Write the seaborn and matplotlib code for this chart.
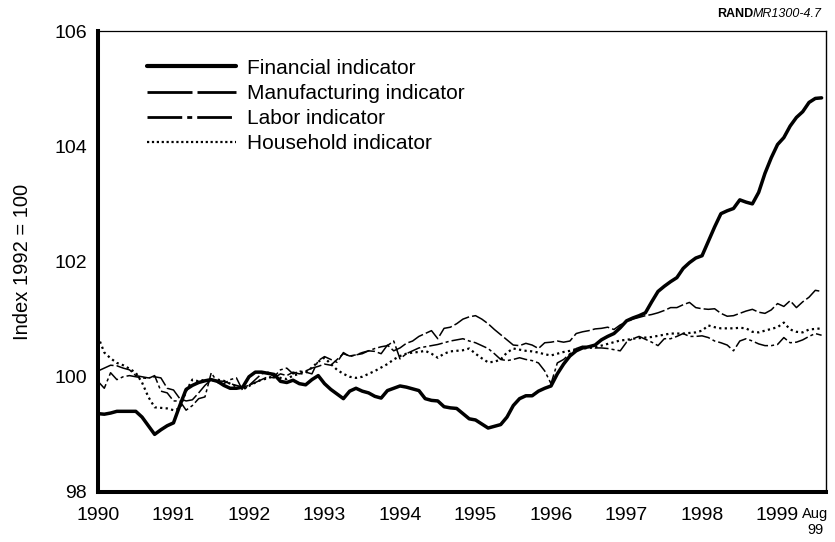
import pandas as pd
import numpy as np
import seaborn as sns
import matplotlib.pyplot as plt
from matplotlib.lines import Line2D
from matplotlib.transforms import blended_transform_factory

# Monthly index values, Jan 1990 - Aug 1999 (1992 = 100)
financial = [99.36, 99.35, 99.37, 99.40, 99.40, 99.40, 99.40, 99.30, 99.15, 99.00,
             99.08, 99.15, 99.20, 99.50, 99.78, 99.85, 99.90, 99.93, 99.95, 99.92,
             99.85, 99.80, 99.80, 99.82, 100.00, 100.08, 100.08, 100.06, 100.04, 99.92,
             99.90, 99.94, 99.88, 99.86, 99.95, 100.02, 99.88, 99.78, 99.70, 99.62,
             99.75, 99.80, 99.75, 99.72, 99.66, 99.63, 99.76, 99.80, 99.84, 99.82,
             99.79, 99.76, 99.62, 99.59, 99.58, 99.48, 99.46, 99.45, 99.36, 99.27,
             99.25, 99.18, 99.11, 99.14, 99.17, 99.30, 99.50, 99.62, 99.67, 99.67,
             99.75, 99.80, 99.84, 100.05, 100.22, 100.36, 100.45, 100.50, 100.52, 100.55,
             100.64, 100.70, 100.75, 100.85, 100.97, 101.02, 101.06, 101.11, 101.30, 101.48,
             101.57, 101.65, 101.72, 101.88, 101.98, 102.06, 102.10, 102.35, 102.60, 102.83,
             102.88, 102.92, 103.07, 103.03, 103.00, 103.20, 103.53, 103.80, 104.03, 104.15,
             104.35, 104.50, 104.60, 104.76, 104.83, 104.84]

manufacturing = [100.10, 100.15, 100.20, 100.19, 100.15, 100.12, 100.02, 100.00, 99.98, 100.00,
                 99.98, 99.80, 99.77, 99.62, 99.58, 99.60, 99.72, 99.85, 99.95, 99.93,
                 99.92, 99.88, 99.85, 99.82, 99.85, 99.90, 99.95, 100.00, 99.98, 100.05,
                 100.02, 100.08, 100.05, 100.10, 100.15, 100.18, 100.22, 100.20, 100.30, 100.40,
                 100.36, 100.38, 100.42, 100.45, 100.44, 100.40, 100.55, 100.45, 100.50, 100.58,
                 100.62, 100.70, 100.75, 100.80, 100.66, 100.84, 100.86, 100.92, 101.00, 101.04,
                 101.06, 101.00, 100.92, 100.82, 100.73, 100.64, 100.55, 100.54, 100.58, 100.55,
                 100.49, 100.59, 100.60, 100.62, 100.60, 100.62, 100.75, 100.78, 100.80, 100.83,
                 100.84, 100.86, 100.82, 100.90, 100.95, 101.00, 101.03, 101.06, 101.08, 101.11,
                 101.15, 101.20, 101.20, 101.25, 101.29, 101.20, 101.18, 101.17, 101.18, 101.10,
                 101.05, 101.06, 101.10, 101.14, 101.17, 101.12, 101.10, 101.16, 101.27, 101.22,
                 101.32, 101.20, 101.30, 101.38, 101.50, 101.48]

labor = [99.92, 99.80, 100.07, 99.95, 100.00, 100.02, 100.00, 99.98, 99.97, 100.02,
         99.75, 99.72, 99.58, 99.58, 99.42, 99.50, 99.62, 99.65, 100.07, 99.90,
         99.88, 99.95, 99.98, 99.76, 99.85, 99.95, 100.05, 100.08, 100.00, 100.12,
         100.15, 100.05, 100.10, 100.08, 100.05, 100.28, 100.35, 100.30, 100.25, 100.42,
         100.35, 100.38, 100.40, 100.45, 100.49, 100.52, 100.54, 100.62, 100.31, 100.40,
         100.45, 100.50, 100.52, 100.54, 100.56, 100.59, 100.62, 100.64, 100.66, 100.62,
         100.59, 100.54, 100.49, 100.40, 100.30, 100.28, 100.30, 100.33, 100.30, 100.28,
         100.24, 100.10, 99.88, 100.24, 100.30, 100.40, 100.49, 100.53, 100.52, 100.50,
         100.50, 100.49, 100.47, 100.45, 100.60, 100.66, 100.70, 100.65, 100.60, 100.54,
         100.66, 100.66, 100.70, 100.75, 100.70, 100.70, 100.71, 100.68, 100.62, 100.59,
         100.55, 100.45, 100.62, 100.66, 100.62, 100.57, 100.54, 100.54, 100.56, 100.68,
         100.59, 100.60, 100.64, 100.70, 100.75, 100.72]

household = [100.70, 100.42, 100.32, 100.24, 100.20, 100.14, 100.07, 99.90, 99.65, 99.47,
             99.46, 99.45, 99.42, 99.45, 99.75, 99.95, 99.92, 99.95, 99.93, 99.95,
             99.93, 99.88, 99.83, 99.79, 99.84, 99.90, 99.95, 99.97, 100.02, 99.98,
             99.96, 100.02, 100.05, 100.07, 100.16, 100.26, 100.33, 100.22, 100.12, 100.05,
             100.00, 99.98, 100.00, 100.05, 100.10, 100.16, 100.22, 100.30, 100.36, 100.40,
             100.42, 100.43, 100.45, 100.40, 100.33, 100.40, 100.44, 100.45, 100.46, 100.49,
             100.40, 100.32, 100.25, 100.26, 100.30, 100.42, 100.49, 100.47, 100.45, 100.44,
             100.42, 100.39, 100.37, 100.40, 100.43, 100.45, 100.48, 100.49, 100.50, 100.51,
             100.54, 100.57, 100.60, 100.63, 100.64, 100.66, 100.67, 100.68, 100.69, 100.71,
             100.73, 100.75, 100.75, 100.75, 100.76, 100.77, 100.80, 100.89, 100.86, 100.84,
             100.84, 100.84, 100.85, 100.84, 100.78, 100.77, 100.80, 100.83, 100.86, 100.94,
             100.82, 100.78, 100.77, 100.82, 100.83, 100.84]

years = list(range(1990, 2000))
y_ticks = [98, 100, 102, 104, 106]
labels = ['Financial indicator', 'Manufacturing indicator', 'Labor indicator', 'Household indicator']

dates = pd.date_range('1990-01-01', '1999-08-01', freq='MS')
df = pd.DataFrame({'date': dates.year + (dates.month - 1) / 12,
                   'Financial indicator': financial,
                   'Manufacturing indicator': manufacturing,
                   'Labor indicator': labor,
                   'Household indicator': household})

sns.set_style('white')
plt.rcParams['font.family'] = ['Liberation Sans', 'DejaVu Sans']
plt.rcParams.update({'text.color': 'black', 'axes.labelcolor': 'black',
                     'xtick.color': 'black', 'ytick.color': 'black'})

fig = plt.figure(figsize=(8.35, 5.42), dpi=100)
ax = fig.add_axes([98 / 835, 1 - 492 / 542, 728 / 835, 461 / 542])

styles = {'Financial indicator': dict(lw=2.5, ls='-'),
          'Manufacturing indicator': dict(lw=1.1, ls=(0, (11, 2))),
          'Labor indicator': dict(lw=1.1, ls=(0, (9, 2, 2, 2))),
          'Household indicator': dict(lw=1.6, ls=(0, (1, 1.5)))}

for name in labels[::-1]:
    sns.lineplot(ax=ax, data=df, x='date', y=name, color='black',
                 linewidth=styles[name]['lw'], linestyle=styles[name]['ls'],
                 legend=False)

ax.set_xlim(1990, 1990 + 115.7 / 12)
ax.set_ylim(98, 106)
ax.set_xticks(years)
ax.set_xticklabels([str(y) for y in years], fontsize=14)
ax.set_yticks(y_ticks)
ax.set_yticklabels([str(y) for y in y_ticks], fontsize=14)
ax.tick_params(axis='both', direction='in', length=14, width=0.8, color='black')
ax.tick_params(axis='x', pad=11)
ax.tick_params(axis='y', pad=8)
ax.set_xlabel('')
ax.set_ylabel('Index 1992 = 100', fontsize=14.5, labelpad=16)

for side, w in [('left', 2.9), ('bottom', 2.9), ('top', 0.9), ('right', 1.0)]:
    ax.spines[side].set_linewidth(w)
    ax.spines[side].set_color('black')

# "Aug 99" label at the end of the axis
trans = blended_transform_factory(ax.transData, ax.transAxes)
ax.text(1990 + 114 / 12, -0.065, 'Aug\n99', transform=trans, ha='center', va='center',
        fontsize=10.5, linespacing=1.1)

# legend with longer dash patterns like the original key
handles = [Line2D([], [], color='black', lw=3.0, ls='-'),
           Line2D([], [], color='black', lw=2.0, ls=(0, (16.2, 1.8))),
           Line2D([], [], color='black', lw=2.0, ls=(0, (12.5, 1.8, 1.8, 1.8))),
           Line2D([], [], color='black', lw=1.6, ls=(0, (1, 1.2)))]
ax.legend(handles, labels, loc='upper left', bbox_to_anchor=(0.067, 0.94),
          frameon=False, fontsize=15, handlelength=4.3, handletextpad=0.5,
          labelspacing=0.3, borderpad=0, borderaxespad=0)

# figure ID at top right
tag = fig.text(822 / 835, 1 - 14 / 542, 'MR1300-4.7', ha='right', va='center',
               fontsize=9, style='italic')
ax.annotate('RAND', xy=(0, 0.5), xycoords=tag, ha='right', va='center',
            fontsize=9, fontweight='bold')

fig.savefig('out.png', dpi=100)
